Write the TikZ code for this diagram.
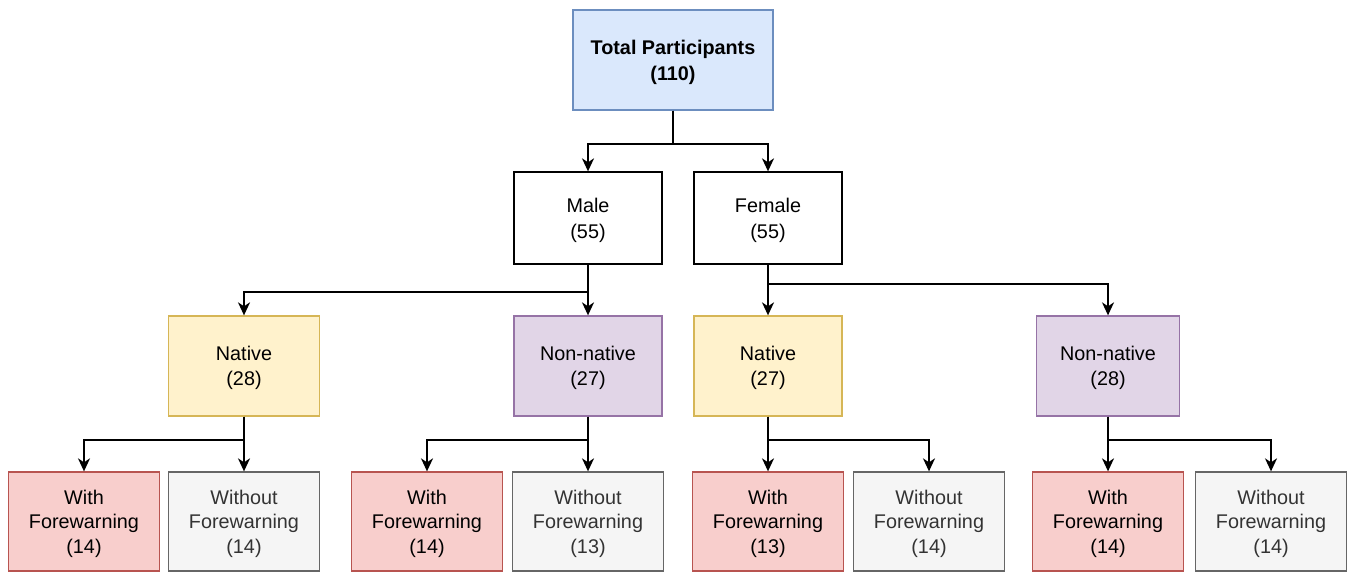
\documentclass[tikz,border=0pt]{standalone}
\usepackage{fontspec}
\setmainfont{Liberation Sans}
\usetikzlibrary{arrows.meta}
\definecolor{bluef}{HTML}{DAE8FC}\definecolor{blued}{HTML}{6C8EBF}
\definecolor{yelf}{HTML}{FFF2CC}\definecolor{yeld}{HTML}{D6B656}
\definecolor{purf}{HTML}{E1D5E7}\definecolor{purd}{HTML}{9673A6}
\definecolor{redf}{HTML}{F8CECC}\definecolor{redd}{HTML}{B85450}
\definecolor{grayf}{HTML}{F5F5F5}\definecolor{grayd}{HTML}{666666}
\definecolor{grayt}{HTML}{333333}
\tikzset{
  box/.style={rectangle, draw, line width=1.3pt, align=center, inner sep=0pt, text depth=0pt,
    font=\fontsize{19.8}{25.5}\selectfont, text=black},
  topbox/.style={box, fill=bluef, draw=blued, minimum width=200pt, minimum height=100pt, font=\fontsize{19.8}{26}\selectfont\bfseries},
  sexbox/.style={box, fill=white, draw=black, minimum width=148pt, minimum height=92pt, font=\fontsize{19.8}{26}\selectfont},
  natbox/.style={box, fill=yelf, draw=yeld, minimum height=100pt},
  nonbox/.style={box, fill=purf, draw=purd, minimum height=100pt},
  withbox/.style={box, fill=redf, draw=redd, minimum height=99pt, minimum width=151pt, font=\fontsize{19.8}{24.5}\selectfont},
  woutbox/.style={box, fill=grayf, draw=grayd, text=grayt, minimum height=99pt, minimum width=151pt, font=\fontsize{19.8}{24.5}\selectfont},
  conn/.style={draw=black, line width=1.8pt, -{Stealth[length=13pt,width=12pt,inset=4pt]}}
}
\begin{document}
\begin{tikzpicture}[x=1pt,y=-1pt]
\useasboundingbox (0,0) rectangle (1349,572);
\node[topbox] (top) at (673,60) {Total Participants\\(110)};
\node[sexbox] (male) at (588,218) {Male\\(55)};
\node[sexbox] (female) at (768,218) {Female\\(55)};
\node[natbox, minimum width=151pt] (nm) at (244,366) {Native\\(28)};
\node[nonbox, minimum width=148pt] (nnm) at (588,366) {Non-native\\(27)};
\node[natbox, minimum width=148pt] (nf) at (768,366) {Native\\(27)};
\node[nonbox, minimum width=143pt] (nnf) at (1108,366) {Non-native\\(28)};
\node[withbox] (w1) at (84,521.5) {With\\Forewarning\\(14)};
\node[woutbox] (wo1) at (244,521.5) {Without\\Forewarning\\(14)};
\node[withbox] (w2) at (427,521.5) {With\\Forewarning\\(14)};
\node[woutbox] (wo2) at (588,521.5) {Without\\Forewarning\\(13)};
\node[withbox] (w3) at (768,521.5) {With\\Forewarning\\(13)};
\node[woutbox] (wo3) at (929,521.5) {Without\\Forewarning\\(14)};
\node[withbox] (w4) at (1108,521.5) {With\\Forewarning\\(14)};
\node[woutbox] (wo4) at (1271,521.5) {Without\\Forewarning\\(14)};
% connectors
\draw[conn] (top.south) -- ++(0,33) -| (male.north);
\draw[conn] (top.south) -- ++(0,33) -| (female.north);
\draw[conn] (male.south) -- ++(0,27) -| (nm.north);
\draw[conn] (male.south) -- (nnm.north);
\draw[conn] (female.south) -- ++(0,19) -| (nnf.north);
\draw[conn] (female.south) -- (nf.north);
\draw[conn] (nm.south) -- ++(0,23) -| (w1.north);
\draw[conn] (nm.south) -- (wo1.north);
\draw[conn] (nnm.south) -- ++(0,23) -| (w2.north);
\draw[conn] (nnm.south) -- (wo2.north);
\draw[conn] (nf.south) -- (w3.north);
\draw[conn] (nf.south) -- ++(0,23) -| (wo3.north);
\draw[conn] (nnf.south) -- (w4.north);
\draw[conn] (nnf.south) -- ++(0,23) -| (wo4.north);
\end{tikzpicture}
\end{document}
